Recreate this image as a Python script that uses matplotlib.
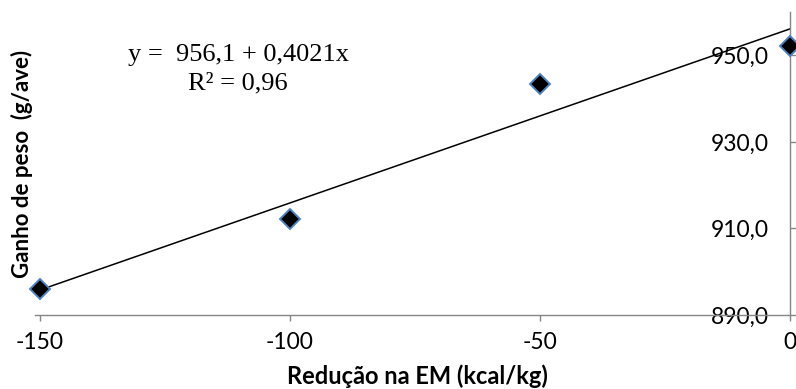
import matplotlib
matplotlib.use("Agg")
import matplotlib.pyplot as plt
import numpy as np

reducao = [-150, -100, -50, 0]
ganho = [895.9, 912.2, 943.3, 952.1]
intercept = 956.1
slope = 0.4021
yticks = [890, 910, 930, 950]
xticks = [-150, -100, -50, 0]

fig = plt.figure(figsize=(7.96, 3.89), dpi=100)
ax = fig.add_axes([35/796, 74/389, (790-35)/796, (377-74)/389])

xl = np.array([-150, 0])
ax.plot(xl, intercept + slope * xl, color='black', lw=1.1, zorder=2)
ax.plot(reducao, ganho, linestyle='none', marker='D', ms=10,
        markerfacecolor='black', markeredgecolor='#4F81BD', markeredgewidth=1.4, zorder=3,
        clip_on=False)

ax.set_xlim(-151, 0)
ax.set_ylim(890, 960)
for s in ['left', 'top']:
    ax.spines[s].set_visible(False)
for s in ['bottom', 'right']:
    ax.spines[s].set_color('#868686')
    ax.spines[s].set_linewidth(1.0)

ax.set_xticks(xticks)
ax.set_xticklabels([str(v) for v in xticks])
ax.set_yticks(yticks)
ax.set_yticklabels([f"{v:.1f}".replace('.', ',') for v in yticks])

ax.tick_params(axis='x', direction='out', length=4, width=1, color='#868686',
               labelsize=16.5, pad=8)
ax.tick_params(axis='y', left=False, right=True, labelleft=False, labelright=True,
               direction='out', length=4, width=1, color='#868686', labelsize=16.5,
               pad=-(3 + 16))
for lab in ax.get_yticklabels():
    lab.set_horizontalalignment('right')
for lab in ax.get_xticklabels() + ax.get_yticklabels():
    lab.set_fontfamily('Lato')

fig.text(417/796, 1 - 384/389, 'Redução na EM (kcal/kg)', ha='center', va='baseline',
         fontsize=17, fontweight='bold', family='Lato')
fig.text(22/796, 1 - 164/389, 'Ganho de peso  (g/ave)', ha='center', va='center',
         rotation=90, fontsize=16, fontweight='bold', family='Lato')

fig.text(238/796, 1 - 55/389, 'y =  956,1 + 0,4021x', ha='center', va='center',
         fontsize=19, family='Liberation Serif')
fig.text(238/796, 1 - 83/389, 'R² = 0,96', ha='center', va='center',
         fontsize=19, family='Liberation Serif')

fig.savefig('out.png', dpi=100)
